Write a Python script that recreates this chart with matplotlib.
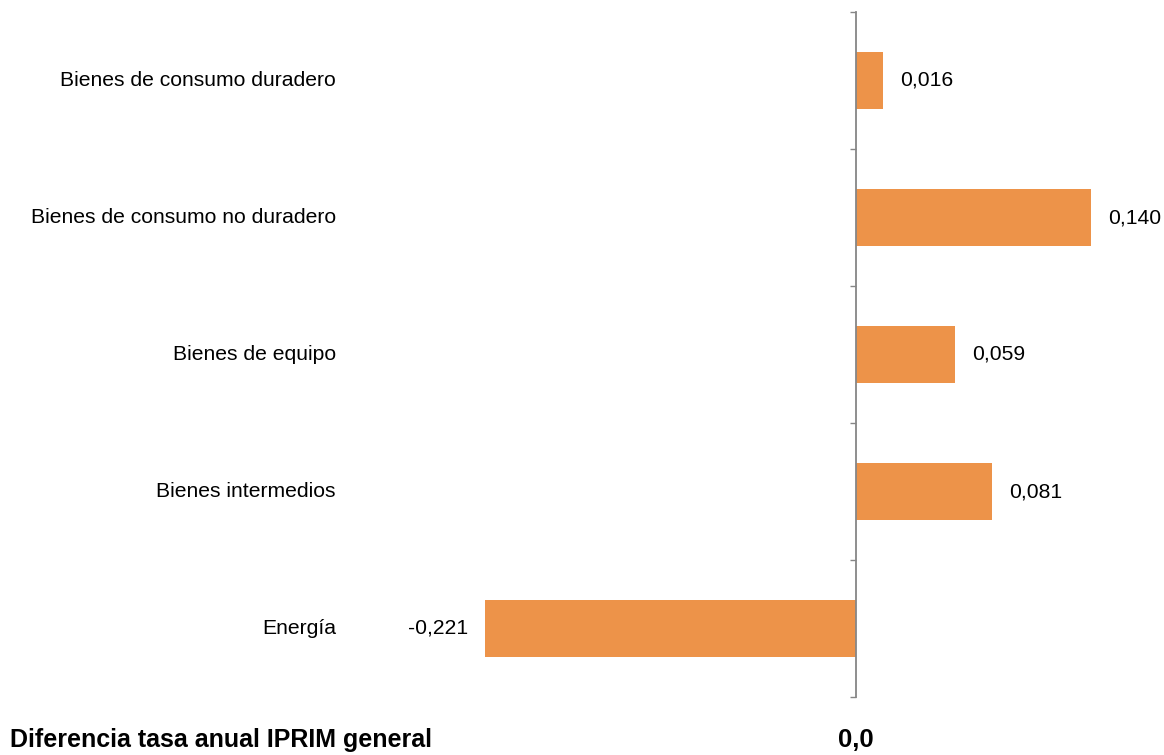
import matplotlib
matplotlib.use("Agg")
import matplotlib.pyplot as plt
from matplotlib.transforms import blended_transform_factory

categories = ["Energía", "Bienes intermedios", "Bienes de equipo",
              "Bienes de consumo no duradero", "Bienes de consumo duradero"]
values = [-0.221, 0.081, 0.059, 0.140, 0.016]
value_labels = ["-0,221", "0,081", "0,059", "0,140", "0,016"]
footer_label = "Diferencia tasa anual IPRIM general"
footer_value = "0,0"

plt.rcParams['font.family'] = ['Liberation Sans', 'DejaVu Sans']

W, H = 1164, 755
fig = plt.figure(figsize=(W / 100, H / 100), dpi=100)

ax_left, ax_right = 420, 1150
ax_top, ax_bottom = 12, 697
ax = fig.add_axes([ax_left / W, 1 - ax_bottom / H, (ax_right - ax_left) / W, (ax_bottom - ax_top) / H])

zero_px = 856
px_per_unit = (zero_px - 485) / 0.221
ax.set_xlim((ax_left - zero_px) / px_per_unit, (ax_right - zero_px) / px_per_unit)
ax.set_ylim(-0.5, len(categories) - 0.5)

color = "#ED9349"
ypos = list(range(len(categories)))
ax.barh(ypos, values, height=0.41, color=color, zorder=2)

for s in ["top", "right", "bottom"]:
    ax.spines[s].set_visible(False)
ax.spines["left"].set_position(("data", 0))
ax.spines["left"].set_color("#868686")
ax.spines["left"].set_linewidth(1.3)
ax.spines["left"].set_zorder(3)
ax.set_xticks([])
ax.set_yticks([i - 0.5 for i in range(len(categories) + 1)])
ax.set_yticklabels([])
ax.tick_params(axis="y", direction="out", length=4.5, width=1.0, color="#868686")

trans = blended_transform_factory(fig.transFigure, ax.transData)
for y, cat in zip(ypos, categories):
    ax.text(336 / W, y, cat, transform=trans, ha="right", va="center", fontsize=15.2, color="#000000")

offset = 17 / px_per_unit
for y, v, lab in zip(ypos, values, value_labels):
    if v >= 0:
        ax.text(v + offset, y, lab, ha="left", va="center", fontsize=15.2, color="#000000")
    else:
        ax.text(v - offset, y, lab, ha="right", va="center", fontsize=15.2, color="#000000")

fig.text(10 / W, 1 - 740 / H, footer_label, ha="left", va="center", fontsize=18, fontweight="bold")
ftrans = blended_transform_factory(ax.transData, fig.transFigure)
fig.text(0, 1 - 740 / H, footer_value, transform=ftrans, ha="center", va="center", fontsize=18.5, fontweight="bold")

fig.savefig("out.png", dpi=100, facecolor="white")
